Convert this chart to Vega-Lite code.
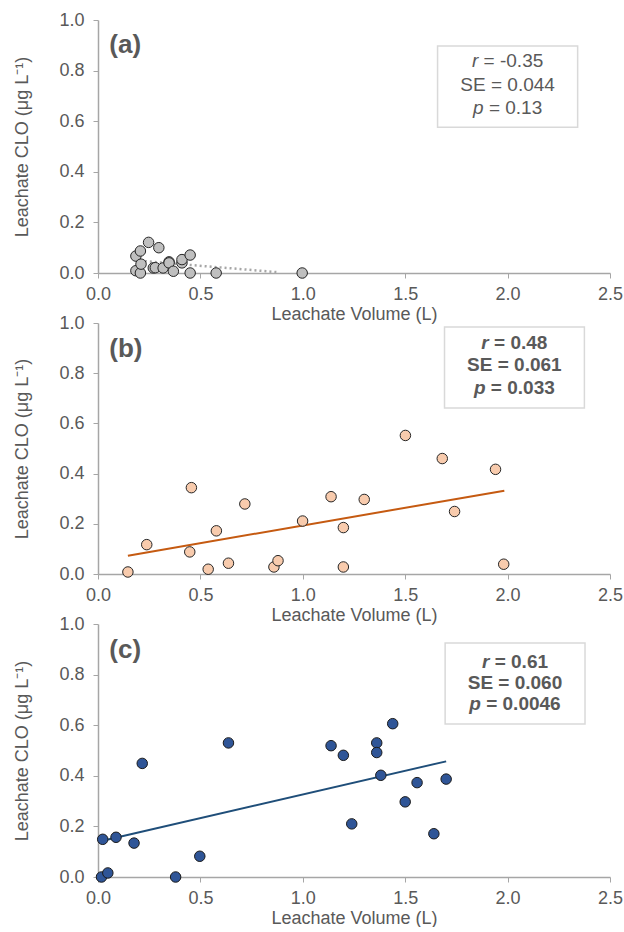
{
  "$schema": "https://vega.github.io/schema/vega-lite/v6.json",
  "padding": {"left": 13, "top": 11, "right": 0, "bottom": 0},
  "background": "white",
  "datasets": {
    "a": [
      {"vol": 0.185, "clo": 0.067}, {"vol": 0.207, "clo": 0.087}, {"vol": 0.247, "clo": 0.121},
      {"vol": 0.297, "clo": 0.1}, {"vol": 0.185, "clo": 0.009}, {"vol": 0.207, "clo": 0.0},
      {"vol": 0.21, "clo": 0.035}, {"vol": 0.27, "clo": 0.02}, {"vol": 0.28, "clo": 0.021},
      {"vol": 0.318, "clo": 0.02}, {"vol": 0.347, "clo": 0.044}, {"vol": 0.347, "clo": 0.04},
      {"vol": 0.368, "clo": 0.007}, {"vol": 0.41, "clo": 0.04}, {"vol": 0.41, "clo": 0.053},
      {"vol": 0.45, "clo": 0.071}, {"vol": 0.45, "clo": 0.0}, {"vol": 0.577, "clo": 0.0},
      {"vol": 0.997, "clo": 0.0}
    ],
    "ta": [{"vol": 0.18, "clo": 0.05}, {"vol": 0.88, "clo": 0.003}],
    "b": [
      {"vol": 0.146, "clo": 0.008}, {"vol": 0.238, "clo": 0.117}, {"vol": 0.448, "clo": 0.088},
      {"vol": 0.456, "clo": 0.344}, {"vol": 0.538, "clo": 0.019}, {"vol": 0.578, "clo": 0.172},
      {"vol": 0.637, "clo": 0.043}, {"vol": 0.717, "clo": 0.279}, {"vol": 0.859, "clo": 0.028},
      {"vol": 0.879, "clo": 0.053}, {"vol": 0.999, "clo": 0.211}, {"vol": 1.138, "clo": 0.308},
      {"vol": 1.198, "clo": 0.185}, {"vol": 1.198, "clo": 0.028}, {"vol": 1.3, "clo": 0.297},
      {"vol": 1.501, "clo": 0.552}, {"vol": 1.681, "clo": 0.46}, {"vol": 1.741, "clo": 0.249},
      {"vol": 1.941, "clo": 0.417}, {"vol": 1.981, "clo": 0.039}
    ],
    "tb": [{"vol": 0.146, "clo": 0.073}, {"vol": 1.984, "clo": 0.332}],
    "c": [
      {"vol": 0.017, "clo": 0.0}, {"vol": 0.023, "clo": 0.149}, {"vol": 0.048, "clo": 0.016},
      {"vol": 0.088, "clo": 0.157}, {"vol": 0.176, "clo": 0.134}, {"vol": 0.216, "clo": 0.449},
      {"vol": 0.379, "clo": 0.0}, {"vol": 0.497, "clo": 0.082}, {"vol": 0.637, "clo": 0.53},
      {"vol": 1.138, "clo": 0.519}, {"vol": 1.198, "clo": 0.481}, {"vol": 1.239, "clo": 0.21},
      {"vol": 1.361, "clo": 0.53}, {"vol": 1.361, "clo": 0.492}, {"vol": 1.381, "clo": 0.402},
      {"vol": 1.439, "clo": 0.606}, {"vol": 1.5, "clo": 0.297}, {"vol": 1.558, "clo": 0.373},
      {"vol": 1.64, "clo": 0.171}, {"vol": 1.7, "clo": 0.387}
    ],
    "tc": [{"vol": 0.017, "clo": 0.142}, {"vol": 1.7, "clo": 0.457}],
    "one": [{}]
  },
  "config": {
    "view": {"stroke": null},
    "font": "Liberation Sans",
    "axis": {
      "domainColor": "#a6a6a6", "tickColor": "#a6a6a6", "grid": false,
      "labelColor": "#595959", "titleColor": "#595959", "labelFontSize": 18, "titleFontSize": 18,
      "titleFontWeight": "normal", "labelFont": "Liberation Sans", "titleFont": "Liberation Sans",
      "tickSize": 5, "domainWidth": 1.5, "tickWidth": 1, "labelOverlap": false, "labelFlush": false
    },
    "axisX": {"labelPadding": 7, "titlePadding": 2},
    "axisY": {"labelPadding": 9, "titlePadding": 27},
    "text": {"font": "Liberation Sans", "color": "#595959"}
  },
  "vconcat": [
    {
      "width": 512, "height": 253,
      "layer": [
        {
          "data": {"name": "ta"},
          "mark": {"type": "line", "stroke": "#a6a6a6", "strokeWidth": 2.5, "strokeDash": [2, 3]},
          "encoding": {
            "x": {"field": "vol", "type": "quantitative", "scale": {"domain": [0, 2.5], "nice": false}, "axis": {"title": "Leachate Volume (L)", "format": ".1f", "values": [0, 0.5, 1, 1.5, 2, 2.5]}},
            "y": {"field": "clo", "type": "quantitative", "scale": {"domain": [0, 1], "nice": false}, "axis": {"title": "Leachate CLO (μg L⁻¹)", "format": ".1f", "values": [0, 0.2, 0.4, 0.6, 0.8, 1.0]}}
          }
        },
        {
          "data": {"name": "a"},
          "mark": {"type": "point", "shape": "circle", "filled": true, "size": 110, "fill": "#bfbfbf", "stroke": "#262626", "strokeWidth": 1, "opacity": 1, "clip": false},
          "encoding": {"x": {"field": "vol", "type": "quantitative"}, "y": {"field": "clo", "type": "quantitative"}}
        },
        {
          "data": {"name": "one"},
          "mark": {"type": "rect", "fill": "white", "stroke": "#d9d9d9", "strokeWidth": 1.5},
          "encoding": {"x": {"datum": 1.658}, "x2": {"datum": 2.342}, "y": {"datum": 0.897}, "y2": {"datum": 0.576}}
        },
        {
          "data": {"name": "one"},
          "mark": {"type": "text", "text": "(a)", "fontSize": 26, "fontWeight": "bold", "align": "left", "baseline": "middle"},
          "encoding": {"x": {"datum": 0.055}, "y": {"datum": 0.9}}
        },
        {
          "data": {"name": "one"},
          "mark": {"type": "text", "text": "r", "fontSize": 19, "fontStyle": "italic", "align": "right", "baseline": "middle", "dx": -29.3},
          "encoding": {"x": {"datum": 2.0}, "y": {"datum": 0.836}}
        },
        {
          "data": {"name": "one"},
          "mark": {"type": "text", "text": "= -0.35", "fontSize": 19, "align": "left", "baseline": "middle", "dx": -24.0},
          "encoding": {"x": {"datum": 2.0}, "y": {"datum": 0.836}}
        },
        {
          "data": {"name": "one"},
          "mark": {"type": "text", "text": "SE = 0.044", "fontSize": 19, "align": "center", "baseline": "middle"},
          "encoding": {"x": {"datum": 2.0}, "y": {"datum": 0.745}}
        },
        {
          "data": {"name": "one"},
          "mark": {"type": "text", "text": "p", "fontSize": 19, "fontStyle": "italic", "align": "right", "baseline": "middle", "dx": -24.0},
          "encoding": {"x": {"datum": 2.0}, "y": {"datum": 0.654}}
        },
        {
          "data": {"name": "one"},
          "mark": {"type": "text", "text": "= 0.13", "fontSize": 19, "align": "left", "baseline": "middle", "dx": -18.7},
          "encoding": {"x": {"datum": 2.0}, "y": {"datum": 0.654}}
        }
      ]
    },
    {
      "width": 512, "height": 251,
      "layer": [
        {
          "data": {"name": "tb"},
          "mark": {"type": "line", "stroke": "#c55a11", "strokeWidth": 2},
          "encoding": {
            "x": {"field": "vol", "type": "quantitative", "scale": {"domain": [0, 2.5], "nice": false}, "axis": {"title": "Leachate Volume (L)", "format": ".1f", "values": [0, 0.5, 1, 1.5, 2, 2.5]}},
            "y": {"field": "clo", "type": "quantitative", "scale": {"domain": [0, 1], "nice": false}, "axis": {"title": "Leachate CLO (μg L⁻¹)", "format": ".1f", "values": [0, 0.2, 0.4, 0.6, 0.8, 1.0]}}
          }
        },
        {
          "data": {"name": "b"},
          "mark": {"type": "point", "shape": "circle", "filled": true, "size": 110, "fill": "#f8cbad", "stroke": "#262626", "strokeWidth": 1, "opacity": 1, "clip": false},
          "encoding": {"x": {"field": "vol", "type": "quantitative"}, "y": {"field": "clo", "type": "quantitative"}}
        },
        {
          "data": {"name": "one"},
          "mark": {"type": "rect", "fill": "white", "stroke": "#d9d9d9", "strokeWidth": 1.5},
          "encoding": {"x": {"datum": 1.692}, "x2": {"datum": 2.375}, "y": {"datum": 0.984}, "y2": {"datum": 0.661}}
        },
        {
          "data": {"name": "one"},
          "mark": {"type": "text", "text": "(b)", "fontSize": 26, "fontWeight": "bold", "align": "left", "baseline": "middle"},
          "encoding": {"x": {"datum": 0.055}, "y": {"datum": 0.897}}
        },
        {
          "data": {"name": "one"},
          "mark": {"type": "text", "text": "r", "fontSize": 19, "fontStyle": "italic", "fontWeight": "bold", "align": "right", "baseline": "middle", "dx": -25.6},
          "encoding": {"x": {"datum": 2.033}, "y": {"datum": 0.921}}
        },
        {
          "data": {"name": "one"},
          "mark": {"type": "text", "text": "= 0.48", "fontSize": 19, "fontWeight": "bold", "align": "left", "baseline": "middle", "dx": -20.3},
          "encoding": {"x": {"datum": 2.033}, "y": {"datum": 0.921}}
        },
        {
          "data": {"name": "one"},
          "mark": {"type": "text", "text": "SE = 0.061", "fontSize": 19, "fontWeight": "bold", "align": "center", "baseline": "middle"},
          "encoding": {"x": {"datum": 2.033}, "y": {"datum": 0.831}}
        },
        {
          "data": {"name": "one"},
          "mark": {"type": "text", "text": "p", "fontSize": 19, "fontStyle": "italic", "fontWeight": "bold", "align": "right", "baseline": "middle", "dx": -28.8},
          "encoding": {"x": {"datum": 2.033}, "y": {"datum": 0.741}}
        },
        {
          "data": {"name": "one"},
          "mark": {"type": "text", "text": "= 0.033", "fontSize": 19, "fontWeight": "bold", "align": "left", "baseline": "middle", "dx": -23.5},
          "encoding": {"x": {"datum": 2.033}, "y": {"datum": 0.741}}
        }
      ]
    },
    {
      "width": 512, "height": 253,
      "layer": [
        {
          "data": {"name": "tc"},
          "mark": {"type": "line", "stroke": "#1f4e79", "strokeWidth": 2},
          "encoding": {
            "x": {"field": "vol", "type": "quantitative", "scale": {"domain": [0, 2.5], "nice": false}, "axis": {"title": "Leachate Volume (L)", "format": ".1f", "values": [0, 0.5, 1, 1.5, 2, 2.5]}},
            "y": {"field": "clo", "type": "quantitative", "scale": {"domain": [0, 1], "nice": false}, "axis": {"title": "Leachate CLO (μg L⁻¹)", "format": ".1f", "values": [0, 0.2, 0.4, 0.6, 0.8, 1.0]}}
          }
        },
        {
          "data": {"name": "c"},
          "mark": {"type": "point", "shape": "circle", "filled": true, "size": 110, "fill": "#2f5597", "stroke": "#1a1a1a", "strokeWidth": 1, "opacity": 1, "clip": false},
          "encoding": {"x": {"field": "vol", "type": "quantitative"}, "y": {"field": "clo", "type": "quantitative"}}
        },
        {
          "data": {"name": "one"},
          "mark": {"type": "rect", "fill": "white", "stroke": "#d9d9d9", "strokeWidth": 1.5},
          "encoding": {"x": {"datum": 1.695}, "x2": {"datum": 2.378}, "y": {"datum": 0.925}, "y2": {"datum": 0.605}}
        },
        {
          "data": {"name": "one"},
          "mark": {"type": "text", "text": "(c)", "fontSize": 26, "fontWeight": "bold", "align": "left", "baseline": "middle"},
          "encoding": {"x": {"datum": 0.055}, "y": {"datum": 0.897}}
        },
        {
          "data": {"name": "one"},
          "mark": {"type": "text", "text": "r", "fontSize": 19, "fontStyle": "italic", "fontWeight": "bold", "align": "right", "baseline": "middle", "dx": -25.6},
          "encoding": {"x": {"datum": 2.036}, "y": {"datum": 0.85}}
        },
        {
          "data": {"name": "one"},
          "mark": {"type": "text", "text": "= 0.61", "fontSize": 19, "fontWeight": "bold", "align": "left", "baseline": "middle", "dx": -20.3},
          "encoding": {"x": {"datum": 2.036}, "y": {"datum": 0.85}}
        },
        {
          "data": {"name": "one"},
          "mark": {"type": "text", "text": "SE = 0.060", "fontSize": 19, "fontWeight": "bold", "align": "center", "baseline": "middle"},
          "encoding": {"x": {"datum": 2.036}, "y": {"datum": 0.767}}
        },
        {
          "data": {"name": "one"},
          "mark": {"type": "text", "text": "p", "fontSize": 19, "fontStyle": "italic", "fontWeight": "bold", "align": "right", "baseline": "middle", "dx": -34.1},
          "encoding": {"x": {"datum": 2.036}, "y": {"datum": 0.685}}
        },
        {
          "data": {"name": "one"},
          "mark": {"type": "text", "text": "= 0.0046", "fontSize": 19, "fontWeight": "bold", "align": "left", "baseline": "middle", "dx": -28.8},
          "encoding": {"x": {"datum": 2.036}, "y": {"datum": 0.685}}
        }
      ]
    }
  ],
  "spacing": 50,
  "bounds": "flush"
}
